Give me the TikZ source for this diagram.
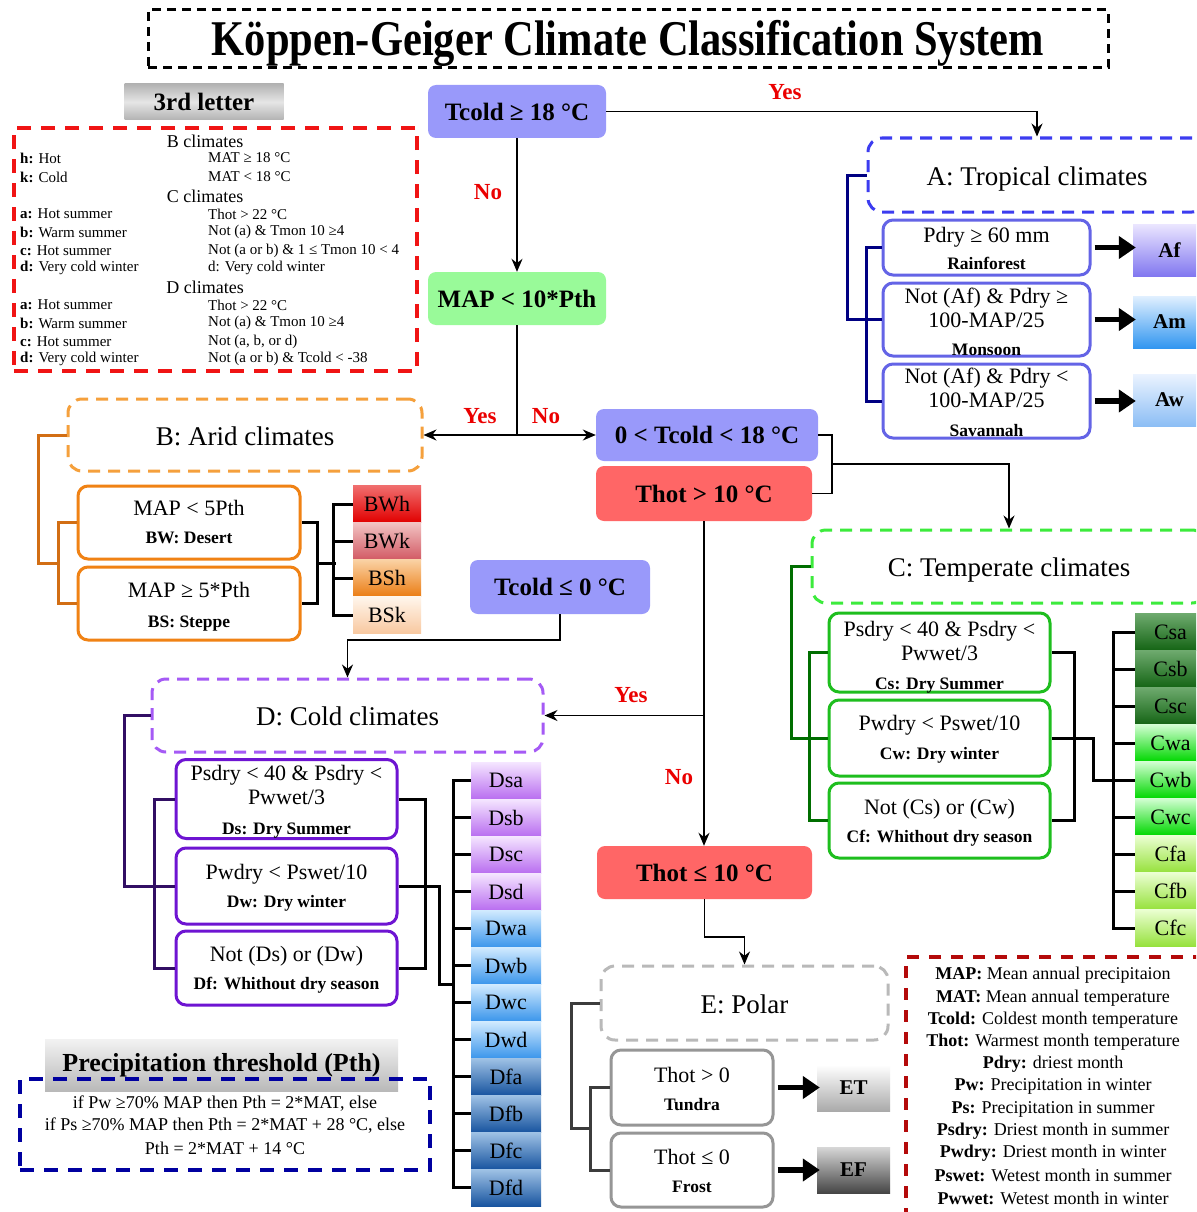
\documentclass[tikz,border=0pt]{standalone}
\usepackage{fontspec}
\setmainfont{Liberation Serif}
\usepackage{graphicx}
\usetikzlibrary{arrows.meta,calc}
\newcommand\fsz[2]{\fontsize{#1}{#2}\selectfont}
\newcommand\sublab[1]{{\fsz{17.5}{19}\bfseries #1}}
\definecolor{lav}{RGB}{153,153,250}
\definecolor{grnb}{RGB}{153,250,153}
\definecolor{redb}{RGB}{255,102,102}
\definecolor{yesred}{RGB}{235,0,0}
\definecolor{adash}{RGB}{60,60,240}
\definecolor{acond}{RGB}{100,100,230}
\definecolor{abrk}{RGB}{0,0,130}
\definecolor{bdash}{RGB}{245,160,60}
\definecolor{bcond}{RGB}{240,130,20}
\definecolor{bbrk}{RGB}{210,110,20}
\definecolor{cdash}{RGB}{60,235,60}
\definecolor{ccond}{RGB}{30,190,30}
\definecolor{cbrk}{RGB}{0,110,0}
\definecolor{ddash}{RGB}{165,90,245}
\definecolor{dcond}{RGB}{110,20,210}
\definecolor{dbrk}{RGB}{50,15,100}
\definecolor{edash}{RGB}{185,185,185}
\definecolor{econd}{RGB}{150,150,150}
\definecolor{ebrk}{RGB}{60,60,60}
\definecolor{thirdred}{RGB}{240,20,20}
\definecolor{legred}{RGB}{180,10,10}
\definecolor{pthblue}{RGB}{0,0,160}
% class gradients
\definecolor{aft}{RGB}{235,230,255}\definecolor{afb}{RGB}{130,120,240}
\definecolor{amt}{RGB}{225,240,255}\definecolor{amb}{RGB}{50,150,240}
\definecolor{awt}{RGB}{235,243,255}\definecolor{awb}{RGB}{140,190,245}
\definecolor{bwht}{RGB}{240,110,110}\definecolor{bwhb}{RGB}{225,0,0}
\definecolor{bwkt}{RGB}{242,195,195}\definecolor{bwkb}{RGB}{210,90,100}
\definecolor{bsht}{RGB}{250,210,165}\definecolor{bshb}{RGB}{235,125,20}
\definecolor{bskt}{RGB}{255,246,236}\definecolor{bskb}{RGB}{248,200,160}
\definecolor{cst}{RGB}{110,170,110}\definecolor{csb}{RGB}{20,100,20}
\definecolor{cwt}{RGB}{210,255,210}\definecolor{cwb}{RGB}{0,215,0}
\definecolor{cft}{RGB}{235,255,210}\definecolor{cfb}{RGB}{150,225,60}
\definecolor{dst}{RGB}{245,230,255}\definecolor{dsb}{RGB}{185,110,240}
\definecolor{dwt}{RGB}{210,235,255}\definecolor{dwb}{RGB}{60,150,235}
\definecolor{dft}{RGB}{160,195,230}\definecolor{dfb}{RGB}{25,85,160}
\definecolor{ett}{RGB}{255,255,255}\definecolor{etb}{RGB}{170,170,170}
\definecolor{eft}{RGB}{215,215,215}\definecolor{efb}{RGB}{70,70,70}
\begin{document}
\begin{tikzpicture}[x=1pt,y=-1pt,
 decbox/.style={rounded corners=8pt, inner sep=0pt, font=\fsz{25}{28}\bfseries},
 cond/.style={draw, fill=white, line width=3pt, rounded corners=10pt, inner sep=0pt, align=center, font=\fsz{22}{24}, text depth=0pt},
 hdr/.style={draw, line width=3pt, dash pattern=on 12pt off 8pt, rounded corners=14pt, inner sep=0pt, font=\fsz{27}{30}, text height=20pt, text depth=0pt},
 cls/.style={inner sep=0pt, font=\fsz{22}{24}},
 lab/.style={inner sep=0pt, text=yesred, font=\fsz{23}{25}\bfseries},
 arr/.style={line width=1.6pt, -{Stealth[length=13pt,width=11pt]}},
 thinl/.style={line width=1.6pt},
 brk/.style={line width=3pt},
 bigarr/.style={line width=5.5pt, -{Triangle[length=17pt,width=22pt]}},
 sm/.style={inner sep=0pt, font=\fsz{15}{16}},
 smh/.style={inner sep=0pt, font=\fsz{18}{20}},
 leg/.style={inner sep=0pt, font=\fsz{18}{20}},
]
\clip (0,0) rectangle (1196,1212);
\fill[white] (0,0) rectangle (1196,1212);

% ---------- Title
\node[draw, line width=3pt, dash pattern=on 9pt off 6pt, minimum width=960pt, minimum height=58pt, inner sep=0pt, text height=33pt, text depth=0pt] (title) at (628,39)
  {\fsz{50}{54}\bfseries\scalebox{0.85}[1]{Köppen-Geiger Climate Classification System}};

% ---------- 3rd letter
\node[inner sep=0pt, minimum width=159pt, minimum height=36pt, top color=gray!60, bottom color=gray!60, middle color=gray!20, font=\fsz{25}{28}\bfseries] (third) at (204,102) {3rd letter};
\node[draw=thirdred, line width=4pt, dash pattern=on 14pt off 10pt, minimum width=403pt, minimum height=243pt, inner sep=0pt] (thirdbox) at (215.5,249.5) {};
\node[smh] (rB) at (205,141) {B climates};
\node[sm, anchor=west] (rh) at (20,158) {\textbf{h:} Hot};
\node[sm, anchor=west] (rhv) at (208,158) {MAT ≥ 18 °C};
\node[sm, anchor=west] (rk) at (20,177) {\textbf{k:} Cold};
\node[sm, anchor=west] (rkv) at (208,177) {MAT < 18 °C};
\node[smh] (rC) at (205,196) {C climates};
\node[sm, anchor=west] (rca) at (20,214) {\textbf{a:} Hot summer};
\node[sm, anchor=west] (rcav) at (208,214) {Thot > 22 °C};
\node[sm, anchor=west] (rcb) at (20,232) {\textbf{b:} Warm summer};
\node[sm, anchor=west] (rcbv) at (208,232) {Not (a) \& Tmon 10 ≥4};
\node[sm, anchor=west] (rcc) at (20,251) {\textbf{c:} Hot summer};
\node[sm, anchor=west] (rccv) at (208,251) {Not (a or b) \& 1 ≤ Tmon 10 < 4};
\node[sm, anchor=west] (rcd) at (20,268) {\textbf{d:} Very cold winter};
\node[sm, anchor=west] (rcdv) at (208,268) {d: Very cold winter};
\node[smh] (rD) at (205,287) {D climates};
\node[sm, anchor=west] (rda) at (20,305) {\textbf{a:} Hot summer};
\node[sm, anchor=west] (rdav) at (208,305) {Thot > 22 °C};
\node[sm, anchor=west] (rdb) at (20,323) {\textbf{b:} Warm summer};
\node[sm, anchor=west] (rdbv) at (208,323) {Not (a) \& Tmon 10 ≥4};
\node[sm, anchor=west] (rdc) at (20,342) {\textbf{c:} Hot summer};
\node[sm, anchor=west] (rdcv) at (208,342) {Not (a, b, or d)};
\node[sm, anchor=west] (rdd) at (20,359) {\textbf{d:} Very cold winter};
\node[sm, anchor=west] (rddv) at (208,359) {Not (a or b) \& Tcold < -38};

% ---------- Decision boxes
\node[decbox, fill=lav, minimum width=178pt, minimum height=53pt] (tc18) at (517,111.5) {Tcold ≥ 18 °C};
\node[decbox, fill=grnb, minimum width=178pt, minimum height=53pt] (map) at (517,298.5) {MAP < 10*Pth};
\node[decbox, fill=lav, minimum width=222pt, minimum height=52pt] (tcmid) at (707,435) {0 < Tcold < 18 °C};
\node[decbox, fill=redb, minimum width=216pt, minimum height=55pt] (thot) at (704,493.5) {Thot > 10 °C};
\node[decbox, fill=lav, minimum width=180pt, minimum height=54pt] (tc0) at (560,587) {Tcold ≤ 0 °C};
\node[decbox, fill=redb, minimum width=215pt, minimum height=53pt] (thotle) at (704.5,872.5) {Thot ≤ 10 °C};

% ---------- Climate group headers
\node[hdr, draw=adash, minimum width=338pt, minimum height=74pt] (Abox) at (1037,175) {A: Tropical climates};
\node[hdr, draw=bdash, minimum width=354pt, minimum height=72pt] (Bbox) at (245,435) {B: Arid climates};
\node[hdr, draw=cdash, minimum width=394pt, minimum height=73pt] (Cbox) at (1009,566.5) {C: Temperate climates};
\node[hdr, draw=ddash, minimum width=391pt, minimum height=73pt] (Dbox) at (347.5,715.5) {D: Cold climates};
\node[hdr, draw=edash, minimum width=287pt, minimum height=74pt] (Ebox) at (744.5,1003) {E: Polar};

% ---------- Main connectors
\draw[arr] (tc18.east) -| (Abox.north);
\draw[arr] (tc18.south) -- (map.north);
\draw[thinl] (map.south) -- (map.south |- Bbox.east) coordinate (sp);
\draw[arr] (sp) -- (Bbox.east);
\draw[arr] (sp) -- (tcmid.west);
\draw[thinl] (tcmid.east) -- ++(14,0) |- (thot.east);
\draw[arr] ($(tcmid.east)!.5!(thot.east)+(17,0)$) -| (Cbox.north);
\draw[arr] (thot.south) -- (thot.south |- thotle.north);
\draw[arr] (thot.south |- Dbox.east) -- (Dbox.east);
\draw[arr] (tc0.south) -- ++(0,26) -| (Dbox.north);
\draw[arr] (thotle.south) -- ++(0,38) -| (Ebox.north);

\node[lab] (yesA) at (785,92) {Yes};
\node[lab] (noA) at (488,192) {No};
\node[lab] (yesB) at (480,416) {Yes};
\node[lab] (noB) at (546,416) {No};
\node[lab] (yesD) at (631,695) {Yes};
\node[lab] (noD) at (679,777) {No};

% ---------- A group
\draw[brk, abrk] (Abox.west) -- ++(-19,0) |- (886,319.5);
\node[cond, draw=acond, minimum width=207pt, minimum height=55pt, text height=43pt] (Af) at (986.5,247.5) {Pdry ≥ 60 mm\\[3pt]\sublab{Rainforest}};
\node[cond, draw=acond, minimum width=207pt, minimum height=73pt, text height=71pt] (Am) at (986.5,319.5) {Not (Af) \& Pdry ≥\\100-MAP/25\\[4pt]\sublab{Monsoon}};
\node[cond, draw=acond, minimum width=207pt, minimum height=74pt, text height=70pt] (Aw) at (986.5,401) {Not (Af) \& Pdry <\\100-MAP/25\\[5pt]\sublab{Savannah}};
\draw[brk, abrk] (Af.west) -- ++(-15,0) |- (Aw.west);
\draw[brk, abrk] (Am.west) -- ++(-34,0);
\node[cls, font=\fsz{21}{23}\bfseries, minimum width=73pt, minimum height=52pt, top color=aft, bottom color=afb] (Afc) at (1169.5,250) {Af};
\node[cls, font=\fsz{21}{23}\bfseries, minimum width=73pt, minimum height=52pt, top color=amt, bottom color=amb] (Amc) at (1169.5,322) {Am};
\node[cls, font=\fsz{21}{23}\bfseries, minimum width=73pt, minimum height=52pt, top color=awt, bottom color=awb] (Awc) at (1169.5,400) {Aw};
\draw[bigarr] ([xshift=3pt]Af.east) -- ([xshift=3pt]Af.east -| Afc.west);
\draw[bigarr] ([xshift=3pt]Am.east) -- ([xshift=3pt]Am.east -| Amc.west);
\draw[bigarr] ([xshift=3pt]Aw.east) -- ([xshift=3pt]Aw.east -| Awc.west);

% ---------- B group
\node[cond, draw=bcond, minimum width=222pt, minimum height=73pt, text height=41pt] (BW) at (189,522.5) {MAP < 5Pth\\[4pt]\sublab{BW: Desert}};
\node[cond, draw=bcond, minimum width=222pt, minimum height=73pt, text height=47pt] (BS) at (189,603.5) {MAP ≥ 5*Pth\\[6pt]\sublab{BS: Steppe}};
\draw[brk, bbrk] (Bbox.west) -- ++(-28,0) |- ($(BW.west)!.5!(BS.west)+(-18,0)$);
\draw[brk, bbrk] (BW.west) -- ++(-18,0) |- (BS.west);
\node[cls, minimum width=68pt, minimum height=37pt, top color=bwht, bottom color=bwhb] (BWh) at (387,504) {BWh};
\node[cls, minimum width=68pt, minimum height=37pt, top color=bwkt, bottom color=bwkb] (BWk) at (387,541) {BWk};
\node[cls, minimum width=68pt, minimum height=37pt, top color=bsht, bottom color=bshb] (BSh) at (387,578) {BSh};
\node[cls, minimum width=68pt, minimum height=37pt, top color=bskt, bottom color=bskb] (BSk) at (387,615) {BSk};
\draw[brk] (BW.east) -- ++(16,0) |- (BS.east);
\draw[brk] ($(BW.east)!.5!(BS.east)+(16,0)$) -- ++(18,0);
\draw[brk] (BWh.west) -- ++(-19,0) |- (BSk.west);
\draw[brk] (BWk.west) -- ++(-19,0);
\draw[brk] (BSh.west) -- ++(-19,0);

% ---------- C group
\node[cond, draw=ccond, minimum width=221pt, minimum height=79pt, text height=73pt] (Cs) at (939.5,652.5) {Psdry < 40 \& Psdry <\\Pwwet/3\\[5pt]\sublab{Cs: Dry Summer}};
\node[cond, draw=ccond, minimum width=221pt, minimum height=76pt, text height=42pt] (Cw) at (939.5,738) {Pwdry < Pswet/10\\[5pt]\sublab{Cw: Dry winter}};
\node[cond, draw=ccond, minimum width=221pt, minimum height=75pt, text height=43pt] (Cf) at (939.5,820.5) {Not (Cs) or (Cw)\\[4pt]\sublab{Cf: Whithout dry season}};
\draw[brk, cbrk] (Cbox.west) -- ++(-19,0) |- (Cw.west);
\draw[brk, cbrk] (Cs.west) -- ++(-18,0) |- (Cf.west);
\foreach \n/\y/\tc/\bc in {Csa/632/cst/csb, Csb/669/cst/csb, Csc/706/cst/csb, Cwa/743/cwt/cwb, Cwb/780/cwt/cwb, Cwc/817/cwt/cwb, Cfa/854/cft/cfb, Cfb/891/cft/cfb, Cfc/928/cft/cfb}
  \node[cls, minimum width=71pt, minimum height=37pt, top color=\tc, bottom color=\bc] (\n) at (1170.5,\y) {\n};
\draw[brk] (Cs.east) -- ++(23,0) |- (Cf.east);
\draw[brk] (Cw.east) -- ++(42,0) |- (Cwb.west);
\draw[brk] (Csa.west) -- ++(-21,0) |- (Cfc.west);
\foreach \n in {Csb,Csc,Cwa,Cwc,Cfa,Cfb} \draw[brk] (\n.west) -- ++(-21,0);

% ---------- D group
\node[cond, draw=dcond, minimum width=221pt, minimum height=79pt, text height=70pt] (Ds) at (286.5,799) {Psdry < 40 \& Psdry <\\Pwwet/3\\[6pt]\sublab{Ds: Dry Summer}};
\node[cond, draw=dcond, minimum width=221pt, minimum height=76pt, text height=42pt] (Dw) at (286.5,886) {Pwdry < Pswet/10\\[4pt]\sublab{Dw: Dry winter}};
\node[cond, draw=dcond, minimum width=221pt, minimum height=74pt, text height=42pt] (Df) at (286.5,968) {Not (Ds) or (Dw)\\[4pt]\sublab{Df: Whithout dry season}};
\draw[brk, dbrk] (Dbox.west) -- ++(-26,0) |- (Dw.west);
\draw[brk, dbrk] (Ds.west) -- ++(-20,0) |- (Df.west);
\foreach \n/\y/\tc/\bc in {Dsa/780.5/dst/dsb, Dsb/817.5/dst/dsb, Dsc/854.5/dst/dsb, Dsd/891.5/dst/dsb, Dwa/928.5/dwt/dwb, Dwb/965.5/dwt/dwb, Dwc/1002.5/dwt/dwb, Dwd/1039.5/dwt/dwb, Dfa/1076.5/dft/dfb, Dfb/1113.5/dft/dfb, Dfc/1150.5/dft/dfb, Dfd/1187.5/dft/dfb}
  \node[cls, minimum width=70pt, minimum height=37pt, top color=\tc, bottom color=\bc] (\n) at (506,\y) {\n};
\draw[brk] (Ds.east) -- ++(27,0) |- (Df.east);
\draw[brk] (Dw.east) -- ++(41,0) |- ($(Dwb.west)!.5!(Dwc.west)+(-17,0)$);
\draw[brk] (Dsa.west) -- ++(-17,0) |- (Dfd.west);
\foreach \n in {Dsb,Dsc,Dsd,Dwa,Dwb,Dwc,Dwd,Dfa,Dfb,Dfc} \draw[brk] (\n.west) -- ++(-17,0);

% ---------- E group
\node[cond, draw=econd, minimum width=162pt, minimum height=75pt, text height=45pt] (ETc) at (692,1087.5) {Thot > 0\\[4pt]\sublab{Tundra}};
\node[cond, draw=econd, minimum width=162pt, minimum height=74pt, text height=44pt] (EFc) at (692,1170) {Thot ≤ 0\\[4pt]\sublab{Frost}};
\draw[brk, ebrk] (Ebox.west) -- ++(-28,0) |- ($(ETc.west)!.5!(EFc.west)+(-19,0)$);
\draw[brk, ebrk] (ETc.west) -- ++(-19,0) |- (EFc.west);
\node[cls, font=\fsz{21}{23}\bfseries, minimum width=73pt, minimum height=46pt, top color=ett, bottom color=etb] (ET) at (853.5,1088) {ET};
\node[cls, font=\fsz{21}{23}\bfseries, minimum width=73pt, minimum height=46pt, top color=eft, bottom color=efb] (EF) at (853.5,1170) {EF};
\draw[bigarr] ([xshift=3pt]ETc.east) -- ([xshift=3pt]ETc.east -| ET.west);
\draw[bigarr] ([xshift=3pt]EFc.east) -- ([xshift=3pt]EFc.east -| EF.west);

% ---------- Legend
\node[draw=legred, line width=3.5pt, dash pattern=on 12pt off 10pt, minimum width=304pt, minimum height=263pt, inner sep=0pt] (legend) at (1058,1088.5) {};
\node[leg] (l1) at (1053,975) {\textbf{MAP:} Mean annual precipitaion};
\node[leg] (l2) at (1053,998) {\textbf{MAT:} Mean annual temperature};
\node[leg] (l3) at (1053,1020) {\textbf{Tcold:} Coldest month temperature};
\node[leg] (l4) at (1053,1042) {\textbf{Thot:} Warmest month temperature};
\node[leg] (l5) at (1053,1064) {\textbf{Pdry:} driest month};
\node[leg] (l6) at (1053,1086) {\textbf{Pw:} Precipitation in winter};
\node[leg] (l7) at (1053,1109) {\textbf{Ps:} Precipitation in summer};
\node[leg] (l8) at (1053,1131) {\textbf{Psdry:} Driest month in summer};
\node[leg] (l9) at (1053,1153) {\textbf{Pwdry:} Driest month in winter};
\node[leg] (l10) at (1053,1175) {\textbf{Pswet:} Wetest month in summer};
\node[leg] (l11) at (1053,1198) {\textbf{Pwwet:} Wetest month in winter};

% ---------- Precipitation threshold
\node[inner sep=0pt, minimum width=353pt, minimum height=52pt, top color=gray!10, bottom color=gray!55, font=\fsz{26}{28}\bfseries] (pth) at (221.5,1065) {Precipitation threshold (Pth)};
\node[draw=pthblue, line width=3.5pt, dash pattern=on 14pt off 10pt, minimum width=410pt, minimum height=91pt, inner sep=0pt] (pthbox) at (225,1124.5) {};
\node[leg] (p1) at (225,1104) {if Pw ≥70\% MAP then Pth = 2*MAT, else};
\node[leg] (p2) at (225,1126) {if Ps ≥70\% MAP then Pth = 2*MAT + 28 °C, else};
\node[leg] (p3) at (225,1148) {Pth = 2*MAT + 14 °C};
\end{tikzpicture}
\end{document}
